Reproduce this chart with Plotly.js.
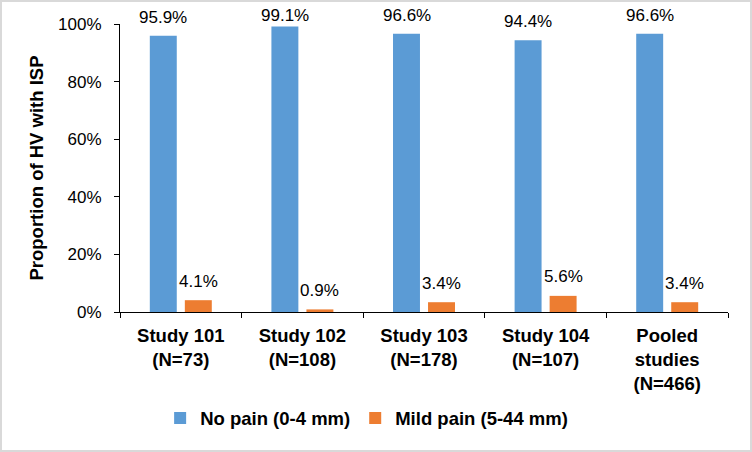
<!DOCTYPE html>
<html>
<head>
<meta charset="utf-8">
<script src="https://cdn.plot.ly/plotly-3.0.1.min.js"></script>
<style>
html,body{margin:0;padding:0;background:#fff;}
#wrap{width:752px;height:452px;box-sizing:border-box;border:2px solid #d9d9d9;overflow:hidden;}
#chart{width:748px;height:448px;}
</style>
</head>
<body>
<div id="wrap"><div id="chart"></div></div>
<script>
var categories = ["Study 101<br>(N=73)", "Study 102<br>(N=108)", "Study 103<br>(N=178)", "Study 104<br>(N=107)", "Pooled<br>studies<br>(N=466)"];
var noPain = [95.9, 99.1, 96.6, 94.4, 96.6];
var mildPain = [4.1, 0.9, 3.4, 5.6, 3.4];
var seriesNames = ["No pain (0-4 mm)", "Mild pain (5-44 mm)"];
var yTickVals = [0, 20, 40, 60, 80, 100];
var yTickText = ["0%", "20%", "40%", "60%", "80%", "100%"];

var FONT = "Arial, 'Liberation Sans', sans-serif";
var W = 748, H = 448, M = {l: 117.5, r: 22, t: 22, b: 134};
var plotH = H - M.t - M.b;

var traces = [
  {type: "bar", name: seriesNames[0], x: categories, y: noPain, marker: {color: "#5B9BD5"}, hoverinfo: "none"},
  {type: "bar", name: seriesNames[1], x: categories, y: mildPain, marker: {color: "#ED7D31"}, hoverinfo: "none"}
];

var annotations = [];
[noPain, mildPain].forEach(function (arr, si) {
  arr.forEach(function (v, i) {
    var barTop = M.t + plotH * (1 - v / 100);
    var shift = Math.min(si === 0 ? 18.5 : 19, barTop - 14);
    annotations.push({
      x: categories[i], y: v, xref: "x", yref: "y",
      text: v.toFixed(1) + "%", showarrow: false,
      xshift: si === 0 ? -17.5 : 17.5, yshift: shift,
      yanchor: "middle", xanchor: "center",
      font: {family: FONT, size: 17, color: "#000"}
    });
  });
});

var layout = {
  width: W, height: H,
  margin: {l: M.l, r: M.r, t: M.t, b: M.b, pad: 0},
  paper_bgcolor: "#fff", plot_bgcolor: "#fff",
  barmode: "group", bargap: 0.424, bargroupgap: 0.23,
  showlegend: true,
  legend: {orientation: "h", x: 0.066, xanchor: "left", y: -0.370, yanchor: "middle",
           font: {family: FONT, size: 18.5, color: "#000", weight: "bold"}, itemwidth: 30,
           bgcolor: "rgba(0,0,0,0)"},
  xaxis: {type: "category", showline: true, linecolor: "#000", linewidth: 1,
          ticks: "outside", tickson: "boundaries", ticklen: 5, tickcolor: "#000",
          ticklabelstandoff: 7, showgrid: false, zeroline: false,
          tickfont: {family: FONT, size: 18.5, color: "#000", weight: "bold"}},
  yaxis: {range: [0, 100], showline: true, linecolor: "#000", linewidth: 1,
          ticks: "outside", ticklen: 5, tickcolor: "#000", ticklabelstandoff: 9,
          tickvals: yTickVals, ticktext: yTickText, showgrid: false, zeroline: false,
          tickfont: {family: FONT, size: 17, color: "#000"},
          title: {text: "Proportion of HV with ISP", standoff: 9,
                  font: {family: FONT, size: 18.5, color: "#000", weight: "bold"}}},
  annotations: annotations
};

Plotly.newPlot("chart", traces, layout, {displayModeBar: false, staticPlot: true});
</script>
</body>
</html>
